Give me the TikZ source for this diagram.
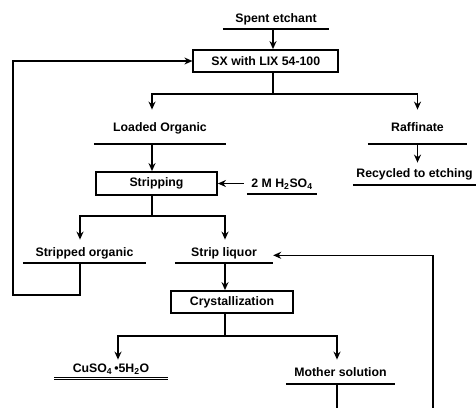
\documentclass[tikz,border=0pt]{standalone}
\usepackage{fontspec}
\setmainfont{Liberation Sans}
\usetikzlibrary{arrows.meta,calc}
\begin{document}
\begin{tikzpicture}[x=1pt,y=-1pt,
  every node/.style={font=\fontsize{12.3}{14}\selectfont\bfseries},
  lbl/.style={anchor=south, inner xsep=0pt, inner ysep=0pt, text height=9pt},
  box/.style={draw, line width=1.8pt, inner sep=0pt, minimum height=22pt},
  line/.style={line width=1.3pt},
  arr/.style={line, -{Stealth[length=8pt,width=7pt]}},
  ul/.style={line width=1.3pt}
]
\useasboundingbox (0,0) rectangle (476,407);
\clip (0,0) rectangle (476,407);

% nodes
\node[lbl, text depth=6pt, minimum width=106pt] (se) at (276,29) {Spent etchant};
\node[box, minimum width=145pt] (sx) at (265.8,61) {SX with LIX 54-100};
\node[lbl, text depth=12pt, minimum width=132pt] (lo) at (160,144) {Loaded Organic};
\node[lbl, text depth=12pt, minimum width=99pt] (raf) at (417.5,144) {Raffinate};
\node[lbl, text depth=7pt, minimum width=123pt] (rec) at (414.5,185) {Recycled to etching};
\node[box, minimum width=121pt, minimum height=23pt] (st) at (156.5,183.5) {Stripping};
\node[lbl, text depth=6pt, minimum width=70pt] (h2) at (282,194) {2 M H\textsubscript{2}SO\textsubscript{4}};
\node[lbl, text depth=6pt, minimum width=123pt] (so) at (84.5,263) {Stripped organic};
\node[lbl, text depth=6pt, minimum width=98pt] (sl) at (224,263) {Strip liquor};
\node[box, minimum width=122pt] (cr) at (232,302) {Crystallization};
\node[lbl, text depth=4.5pt, minimum width=113pt] (cu) at (111,377) {CuSO\textsubscript{4}\,\textbullet5H\textsubscript{2}O};
\node[lbl, text depth=7pt, minimum width=109pt] (ms) at (340.5,384) {Mother solution};

% underlines
\foreach \n in {se,lo,raf,rec,h2,so,sl,ms}
  \draw[ul] (\n.south west) -- (\n.south east);
\draw[line width=1pt] (cu.south west) -- (cu.south east);
\draw[line width=1pt] ([yshift=-2.6pt]cu.south west) -- ([yshift=-2.6pt]cu.south east);

% connectors
\draw[arr] ([xshift=-3pt]se.south) -- ([xshift=-3pt]se.south |- sx.north);
\coordinate (j1) at (273,94);
\draw[line] ([xshift=7.2pt]sx.south) -- (j1);
\draw[arr, shorten >=13pt] (j1) -| ([xshift=-8pt]lo.north);
\draw[arr, shorten >=13pt] (j1) -| (raf.north);
\draw[arr, shorten >=6pt] (raf.south) -- (raf.south |- rec.north);

\draw[arr] ([xshift=-8pt]lo.south) -- ([xshift=-8pt]lo.south |- st.north);
\draw[arr] ([xshift=-3pt]h2.west |- st.east) -- (st.east);

\coordinate (j2) at (152,216);
\draw[line] ([xshift=-8pt]lo.south |- st.south) -- (j2);
\draw[arr, shorten >=8pt] (j2) -| ([xshift=-4.5pt]so.north);
\draw[arr, shorten >=8pt] (j2) -| ([xshift=1pt]sl.north);

\coordinate (l1) at (13,295);
\draw[arr] ([xshift=-4.5pt]so.south) |- (l1) |- (sx.west);

\draw[arr] ([xshift=1pt]sl.south) -- ([xshift=1pt]sl.south |- cr.north);
\coordinate (j3) at (225,336);
\draw[line] ([xshift=1pt]sl.south |- cr.south) -- (j3);
\draw[arr, shorten >=3.5pt] (j3) -| ([xshift=7pt]cu.north);
\draw[arr, shorten >=8pt] (j3) -| ([xshift=-3.5pt]ms.north);

\coordinate (b1) at (337,420);
\coordinate (b2) at (433,420);
\draw[arr] ([xshift=-3.5pt]ms.south) -- (b1) -- (b2) |- (sl.east);
\end{tikzpicture}
\end{document}
